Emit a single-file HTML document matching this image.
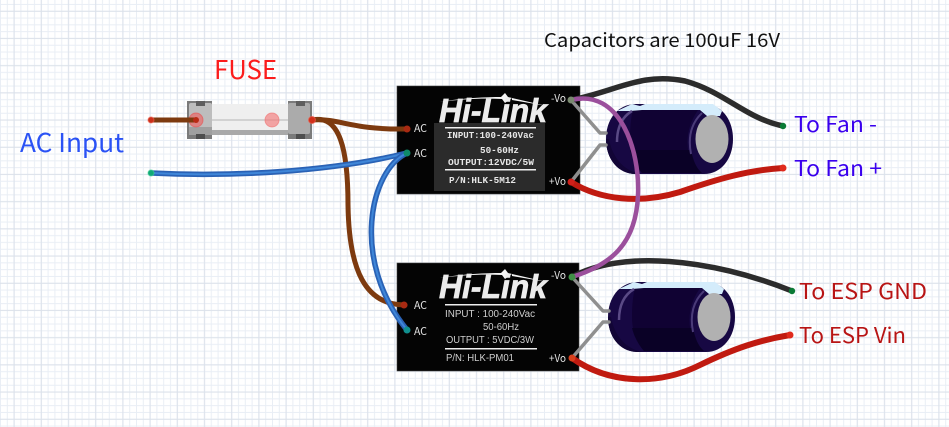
<!DOCTYPE html>
<html><head><meta charset="utf-8"><style>
html,body{margin:0;padding:0;background:#fff;width:949px;height:427px;overflow:hidden}
svg{display:block}
text{font-family:"Noto Sans CJK SC","Liberation Sans",sans-serif}
.m{font-family:"Noto Sans CJK SC","Liberation Sans",sans-serif;fill:#e4e4e4}
.c{font-family:"Liberation Mono",monospace;fill:#e6e6e6;font-weight:bold}
.d{font-family:"Liberation Sans",sans-serif;fill:#cfcfcf}
.w{fill:none;stroke-linecap:round}
</style></head><body>
<svg width="949" height="427" viewBox="0 0 949 427" xmlns="http://www.w3.org/2000/svg">
<defs>
<pattern id="g" width="27.2" height="27.2" patternUnits="userSpaceOnUse" x="0" y="0">
<path d="M0.5 0V27.2M7.3 0V27.2M14.1 0V27.2M20.9 0V27.2M0 4.5H27.2M0 11.3H27.2M0 18.1H27.2M0 24.9H27.2" stroke="#e9eef5" stroke-width="1" fill="none"/>
<path d="M14.1 0V27.2M0 11.3H27.2" stroke="#dbe1ea" stroke-width="1" fill="none"/>
</pattern>
<g id="logo">
<path d="M-57 -20 C-35 -24 -10 -25 4 -25 L8 -29 L11 -25 L15 -24 L12 -22 L8 -19 L5 -23 C-15 -24 -35 -23 -57 -20Z M15 -24 L50 -16 L15 -22Z" fill="#f4f4f4"/>
<text x="-4" y="0" font-size="33" font-weight="bold" font-style="italic" style="font-family:'Liberation Sans',sans-serif;fill:#ececec;stroke:#ececec;stroke-width:.7" text-anchor="middle" textLength="108" lengthAdjust="spacingAndGlyphs">Hi-Link</text>
</g>
<g id="cap">
<path d="M30 0 H98 C115 0 127 15 127 35 C127 55 115 70 98 70 H30 C12 70 0 55 0 35 C0 15 12 0 30 0Z" fill="#170843"/>
<path d="M0 35 C0 55 12 70 30 70 H34 C16 66 6 52 3 35Z" fill="#120536"/>
<path d="M27 6 H92 C84 18 80 30 82 46 C84 56 90 64 96 69 H36 C28 60 24 48 24 35 C24 22 25 14 27 6Z" fill="#100233"/>
<path d="M24 46 H85 C87 56 90 64 96 69 H36 C30 62 26 54 24 46Z" fill="#0a0126"/>
<path d="M11 7 L26 0 L34 2 L39 0 H107 L116 7 L114 12 H101 L94 6 H36 L24 7Z" fill="#d4ecfb"/>
<path d="M11 38 Q11 16 26 7" stroke="#5a4a85" stroke-width="2.5" fill="none"/>
<path d="M85 50 Q80 24 96 9" stroke="#4a3b78" stroke-width="2" fill="none"/>
<ellipse cx="106" cy="35" rx="16.5" ry="24" fill="#b1b1b1"/>
</g>
</defs>
<rect width="949" height="427" fill="#fff"/>
<rect width="949" height="427" fill="url(#g)"/>

<!-- modules -->
<rect x="397" y="86" width="183" height="108" fill="#040404" stroke="#444" stroke-width=".6"/>
<rect x="397" y="263" width="182" height="108" fill="#040404" stroke="#444" stroke-width=".6"/>
<rect x="434" y="123" width="111" height="68" fill="#2b2b2b"/>

<use href="#logo" x="497" y="122"/>
<use href="#logo" x="497" y="298"/>

<rect x="445" y="127" width="91" height="1.5" fill="#eee"/>
<rect x="445" y="169" width="91" height="1.5" fill="#eee"/>
<text class="c" x="447" y="138" font-size="9.5" textLength="87" lengthAdjust="spacingAndGlyphs">INPUT:100-240Vac</text>
<text class="c" x="480" y="153" font-size="9.5" textLength="39" lengthAdjust="spacingAndGlyphs">50-60Hz</text>
<text class="c" x="448" y="165" font-size="9.5" textLength="86" lengthAdjust="spacingAndGlyphs">OUTPUT:12VDC/5W</text>
<text class="c" x="449" y="183" font-size="9.5" textLength="67" lengthAdjust="spacingAndGlyphs">P/N:HLK-5M12</text>
<rect x="445" y="304" width="92" height="1.5" fill="#eee"/>
<rect x="445" y="348" width="92" height="1.5" fill="#eee"/>
<text class="d" x="445" y="317" font-size="10" textLength="90" lengthAdjust="spacingAndGlyphs">INPUT : 100-240Vac</text>
<text class="d" x="483" y="330" font-size="10" textLength="36" lengthAdjust="spacingAndGlyphs">50-60Hz</text>
<text class="d" x="446" y="343" font-size="10" textLength="88" lengthAdjust="spacingAndGlyphs">OUTPUT : 5VDC/3W</text>
<text class="d" x="446" y="361" font-size="10" textLength="68" lengthAdjust="spacingAndGlyphs">P/N: HLK-PM01</text>
<text class="m" x="414" y="132" font-size="10.5" textLength="13" lengthAdjust="spacingAndGlyphs">AC</text>
<text class="m" x="414" y="157" font-size="10.5" textLength="13" lengthAdjust="spacingAndGlyphs">AC</text>
<text class="m" x="414" y="309" font-size="10.5" textLength="13" lengthAdjust="spacingAndGlyphs">AC</text>
<text class="m" x="414" y="335" font-size="10.5" textLength="13" lengthAdjust="spacingAndGlyphs">AC</text>
<text class="m" x="551" y="102" font-size="10.5" textLength="15" lengthAdjust="spacingAndGlyphs">-Vo</text>
<text class="m" x="549" y="185" font-size="10.5" textLength="17" lengthAdjust="spacingAndGlyphs">+Vo</text>
<text class="m" x="551" y="279" font-size="10.5" textLength="15" lengthAdjust="spacingAndGlyphs">-Vo</text>
<text class="m" x="549" y="362" font-size="10.5" textLength="17" lengthAdjust="spacingAndGlyphs">+Vo</text>

<!-- fuse -->
<rect x="212" y="104" width="76" height="31" fill="#efefef"/>
<rect x="212" y="130" width="76" height="5" fill="#a9a9a9"/>
<rect x="212" y="119.5" width="76" height="1" fill="#b5b5b5"/>
<rect x="187" y="101" width="25" height="38" fill="#7b7b7b"/>
<rect x="288" y="101" width="24" height="38" fill="#7b7b7b"/>
<rect x="189" y="103" width="23" height="31" rx="2" fill="#bdbdbd"/>
<rect x="189" y="127" width="23" height="8" fill="#9f9f9f"/>
<rect x="288" y="103" width="22" height="31" rx="2" fill="#ababab"/>
<rect x="196" y="101" width="9" height="5" fill="#5e5e5e"/>
<rect x="296" y="101" width="9" height="5" fill="#5e5e5e"/>
<rect x="196" y="134" width="9" height="5" fill="#4e4e4e"/>
<rect x="296" y="134" width="9" height="5" fill="#4e4e4e"/>
<circle cx="196" cy="120" r="7" fill="#f05a5a" fill-opacity=".6" stroke="#e85050" stroke-opacity=".6"/>
<circle cx="272" cy="120" r="7" fill="#f27a7a" fill-opacity=".65" stroke="#f07070" stroke-opacity=".6"/>

<!-- capacitors -->
<use href="#cap" x="606" y="104"/>
<use href="#cap" x="608" y="282"/>

<!-- grey leads -->
<g class="w" stroke="#8f8f8f" stroke-width="3.5" stroke-linejoin="round">
<path d="M571 100 L600 133 H606"/>
<path d="M571 182 L600 145 H606"/>
<path d="M572 277 L603 311 H609"/>
<path d="M572 358 L603 322 H609"/>
</g>

<!-- wires -->
<g class="w">
<path d="M151 120 H196" stroke="#7d3a0f" stroke-width="5"/>
<path d="M312 120 C340 118 350 130 407 129" stroke="#7d3a0f" stroke-width="5"/>
<path d="M312 120 C340 114 348 150 348 205 C349 270 365 305 405 305" stroke="#7d3a0f" stroke-width="5"/>
<path d="M151 173 C230 177 330 172 407 153" stroke="#2a62b5" stroke-width="5.5"/>
<path d="M151 173 C230 177 330 172 407 153" stroke="#3f86d8" stroke-width="2"/>
<path d="M407 153 C370 170 350 260 407 330" stroke="#2a62b5" stroke-width="5.5"/>
<path d="M407 153 C370 170 350 260 407 330" stroke="#3f86d8" stroke-width="2"/>

<path d="M571 100 C615 92 640 72 685 81 C725 92 745 118 783 126" stroke="#2c2c2c" stroke-width="5.5"/>
<path d="M571 182 C600 200 640 204 680 192 C720 178 750 170 783 168" stroke="#c01a10" stroke-width="6"/>
<path d="M572 277 C620 250 710 258 792 291" stroke="#2c2c2c" stroke-width="5.5"/>
<path d="M572 358 C610 385 660 385 700 365 C735 348 760 340 790 335" stroke="#c01a10" stroke-width="6"/>
<path d="M571 100 C620 88 640 150 638 195 C636 245 610 265 572 277" stroke="#9b4f9c" stroke-width="4.5"/>
</g>

<!-- terminals -->
<g stroke-opacity=".55" stroke-width="1.2">
<circle cx="151" cy="120" r="3" fill="#c9301a" stroke="#f06050"/>
<circle cx="196" cy="120" r="3" fill="#b92a14"/>
<circle cx="312" cy="120" r="3.5" fill="#d0301c" stroke="#f06050"/>
<circle cx="407" cy="129" r="3.5" fill="#a82a12"/>
<circle cx="407" cy="153" r="3.5" fill="#0e8a6a"/>
<circle cx="404" cy="305" r="3.5" fill="#a82a12"/>
<circle cx="407" cy="330" r="3.5" fill="#10908f"/>
<circle cx="151" cy="173" r="3" fill="#10a878" stroke="#40d090"/>
<circle cx="571" cy="100" r="3.5" fill="#7a8a70"/>
<circle cx="571" cy="182" r="3.5" fill="#d0201a"/>
<circle cx="572" cy="277" r="3.5" fill="#3f9045"/>
<circle cx="572" cy="358" r="3.5" fill="#d8401c"/>
<circle cx="783" cy="126" r="3.2" fill="#0a7a35"/>
<circle cx="783" cy="168" r="3.5" fill="#e02a1c"/>
<circle cx="792" cy="291" r="3.2" fill="#0a7a35"/>
<circle cx="790" cy="335" r="3.5" fill="#e02a1c"/>
</g>

<!-- labels -->
<text x="214" y="79" font-size="26" fill="#fb1c1c" textLength="63" lengthAdjust="spacingAndGlyphs">FUSE</text>
<text x="20" y="152" font-size="26" fill="#2a52f5" textLength="104" lengthAdjust="spacingAndGlyphs">AC Input</text>
<text x="544" y="47" font-size="19" fill="#111" textLength="236" lengthAdjust="spacingAndGlyphs">Capacitors are 100uF 16V</text>
<text x="794" y="132" font-size="21.5" fill="#3a00ee" textLength="83" lengthAdjust="spacingAndGlyphs">To Fan -</text>
<text x="794" y="176" font-size="21.5" fill="#3a00ee" textLength="88" lengthAdjust="spacingAndGlyphs">To Fan +</text>
<text x="799" y="299" font-size="21.5" fill="#b81414" textLength="128" lengthAdjust="spacingAndGlyphs">To ESP GND</text>
<text x="799" y="343" font-size="21.5" fill="#b81414" textLength="107" lengthAdjust="spacingAndGlyphs">To ESP Vin</text>
</svg>
</body></html>
